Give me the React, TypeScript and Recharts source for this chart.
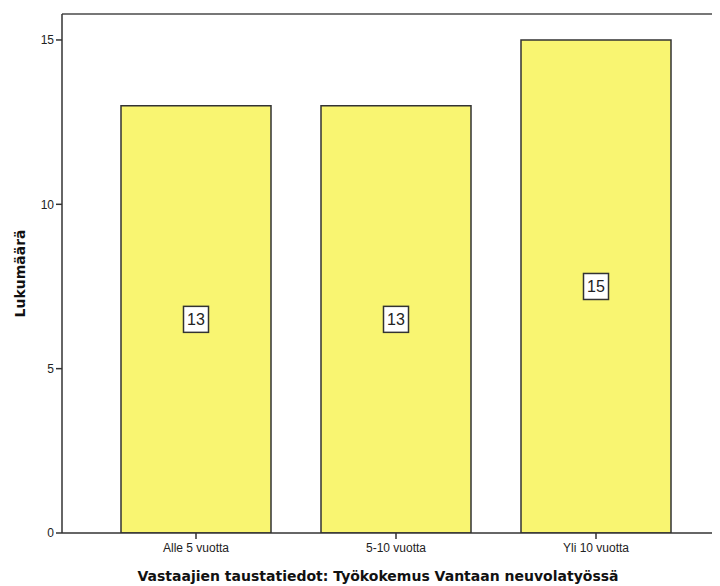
import { BarChart, Bar, XAxis, YAxis, LabelList, ReferenceLine } from 'recharts';

const categories = ['Alle 5 vuotta', '5-10 vuotta', 'Yli 10 vuotta'];
const counts = [13, 13, 15];
const yTicks = [0, 5, 10, 15];

const data = categories.map((name, i) => ({ name, count: counts[i] }));

// value box drawn in the middle of each bar
const ValueBox = (props: any) => {
    const { x, y, width, height, value } = props;
    const cx = x + width / 2;
    const cy = y + height / 2;
    const w = 25;
    const h = 26;
    return (
        <g>
            <rect x={cx - w / 2} y={cy - h / 2} width={w} height={h} fill="#fff" stroke="#333" strokeWidth={1.5} />
            <text x={cx} y={cy + 6} textAnchor="middle" fontSize={16} fontFamily="Liberation Sans, Arial, sans-serif" fill="#222">
                {value}
            </text>
        </g>
    );
};

const YTitle = (props: any) => {
    const { viewBox } = props;
    const x = 12;
    const y = viewBox.y + viewBox.height / 2;
    return (
        <text x={x} y={y} transform={`rotate(-90, ${x}, ${y})`} textAnchor="middle" dominantBaseline="central"
            fontSize={14} fontWeight="bold" fontFamily="DejaVu Sans, Verdana, sans-serif" fill="#111">
            Lukumäärä
        </text>
    );
};

const XTitle = (props: any) => {
    const { viewBox } = props;
    return (
        <text x={370} y={viewBox.y + 48} textAnchor="middle"
            fontSize={14} fontWeight="bold" fontFamily="DejaVu Sans, Verdana, sans-serif" fill="#111">
            Vastaajien taustatiedot: Työkokemus Vantaan neuvolatyössä
        </text>
    );
};

export default function App() {
    return (
        <div style={{ width: 712, height: 578 }}>
            <BarChart width={712} height={578} data={data} margin={{ top: 6, right: 0, bottom: 23, left: 0 }} barCategoryGap={50}>
                <XAxis dataKey="name" padding={{ left: 34, right: 24 }} stroke="#333" strokeWidth={1.5}
                    tickSize={6} tickMargin={4} height={30}
                    tick={{ fontSize: 12, fill: '#222', fontFamily: 'Liberation Sans, Arial, sans-serif' }}
                    label={<XTitle />} />
                <YAxis domain={[0, 15.79]} ticks={yTicks} width={54} stroke="#333" strokeWidth={1.5}
                    tickSize={6} tickMargin={2} allowDataOverflow
                    tick={{ fontSize: 12, fill: '#222', fontFamily: 'Liberation Sans, Arial, sans-serif' }}
                    label={<YTitle />} />
                <ReferenceLine y={15.79} stroke="#777" strokeWidth={2} ifOverflow="extendDomain" />
                <Bar dataKey="count" fill="#f9f571" stroke="#333" strokeWidth={1.5} barSize={150} isAnimationActive={false}>
                    <LabelList dataKey="count" content={<ValueBox />} />
                </Bar>
            </BarChart>
        </div>
    );
}
